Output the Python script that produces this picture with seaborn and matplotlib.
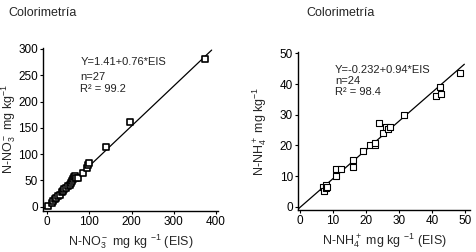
import numpy as np
import pandas as pd
import seaborn as sns
import matplotlib
matplotlib.use('Agg')
import matplotlib.pyplot as plt

# Datos: N-NO3 (EIS vs colorimetria)
no3_eis = [3, 11, 14, 19, 22, 26, 30, 35, 38, 40, 45, 50, 53, 57, 60, 62, 63,
           65, 68, 72, 85, 95, 98, 100, 139, 197, 375]
no3_col = [2, 7, 11, 14, 17, 20, 23, 28, 30, 33, 35, 40, 42, 45, 48, 52, 57,
           59, 55, 54, 65, 74, 80, 83, 114, 161, 280]

# Datos: N-NH4 (EIS vs colorimetria)
nh4_eis = [7.0, 7.2, 8.0, 7.8, 8.2, 11.0, 11.0, 12.3, 16.1, 16.1, 19.1, 21.1,
           22.7, 22.7, 25.1, 23.9, 25.9, 26.5, 27.3, 31.6, 41.1, 42.7, 42.2, 48.3]
nh4_col = [6.4, 5.3, 7.1, 6.0, 6.6, 10.0, 12.2, 12.2, 15.2, 13.0, 18.2, 20.0,
           20.0, 20.9, 24.1, 27.2, 25.9, 25.5, 25.9, 30.0, 36.1, 36.7, 39.0, 43.6]

# Rectas de ajuste (intercepto, pendiente) y su tramo en x
no3_fit = (1.41, 0.76)
no3_fit_span = [-8, 390]
nh4_fit = (-0.232, 0.94)
nh4_fit_span = [-0.5, 49.7]

no3_text = ['Y=1.41+0.76*EIS', 'n=27', 'R\u00b2 = 99.2']
nh4_text = ['Y=-0.232+0.94*EIS', 'n=24', 'R\u00b2 = 98.4']

df_no3 = pd.DataFrame({'eis': no3_eis, 'col': no3_col})
df_nh4 = pd.DataFrame({'eis': nh4_eis, 'col': nh4_col})

sns.set_style('ticks')
plt.rcParams['font.family'] = ['Liberation Sans', 'DejaVu Sans']
plt.rcParams['mathtext.default'] = 'regular'

fig = plt.figure(figsize=(4.77, 2.52), dpi=100)
ax1 = fig.add_axes([0.090, 0.163, 0.367, 0.647])
ax2 = fig.add_axes([0.625, 0.167, 0.361, 0.627])


def panel(ax, df, fit, span, lines, ylines, edge_lw):
    xs = np.linspace(span[0], span[1], 50)
    ax.plot(xs, fit[0] + fit[1] * xs, color='black', lw=0.9, zorder=2)
    sns.scatterplot(data=df, x='eis', y='col', ax=ax, marker='s', s=16,
                    facecolor='white', edgecolor='black', linewidth=edge_lw,
                    zorder=3, legend=False)
    for t, yy in zip(lines, ylines):
        ax.text(0.213, yy, t, transform=ax.transAxes, fontsize=8,
                color='#222222', va='center', ha='left')
    sns.despine(ax=ax)
    for s in ['left', 'bottom']:
        ax.spines[s].set_linewidth(1.0)
        ax.spines[s].set_color('black')
    ax.tick_params(direction='out', length=2.5, width=0.8, labelsize=8.5,
                   colors='black', pad=1.2)


panel(ax1, df_no3, no3_fit, no3_fit_span, no3_text, [0.914, 0.822, 0.748], 1.2)
ax1.set_xlim(-10, 405)
ax1.set_ylim(-8, 302)
ax1.set_xticks([0, 100, 200, 300, 400])
ax1.set_yticks([0, 50, 100, 150, 200, 250, 300])
ax1.set_xlabel('N-NO$_3^-$ mg kg $^{-1}$ (EIS)', fontsize=9, labelpad=3)
ax1.set_ylabel('N-NO$_3^-$ mg kg$^{-1}$', fontsize=9)
ax1.yaxis.set_label_coords(-0.142, 0.5)

panel(ax2, df_nh4, nh4_fit, nh4_fit_span, nh4_text, [0.886, 0.816, 0.747], 0.8)
ax2.set_xlim(-0.5, 51.5)
ax2.set_ylim(-1, 50.5)
ax2.set_xticks([0, 10, 20, 30, 40, 50])
ax2.set_yticks([0, 10, 20, 30, 40, 50])
ax2.set_xlabel('N-NH$_4^+$ mg kg $^{-1}$ (EIS)', fontsize=9, labelpad=3)
ax2.set_ylabel('N-NH$_4^+$ mg kg$^{-1}$', fontsize=9)
ax2.yaxis.set_label_coords(-0.17, 0.5)

fig.text(0.089, 0.948, 'Colorimetría', fontsize=9, ha='center', va='center')
fig.text(0.715, 0.948, 'Colorimetría', fontsize=9, ha='center', va='center')

fig.savefig('out.png', dpi=100)
